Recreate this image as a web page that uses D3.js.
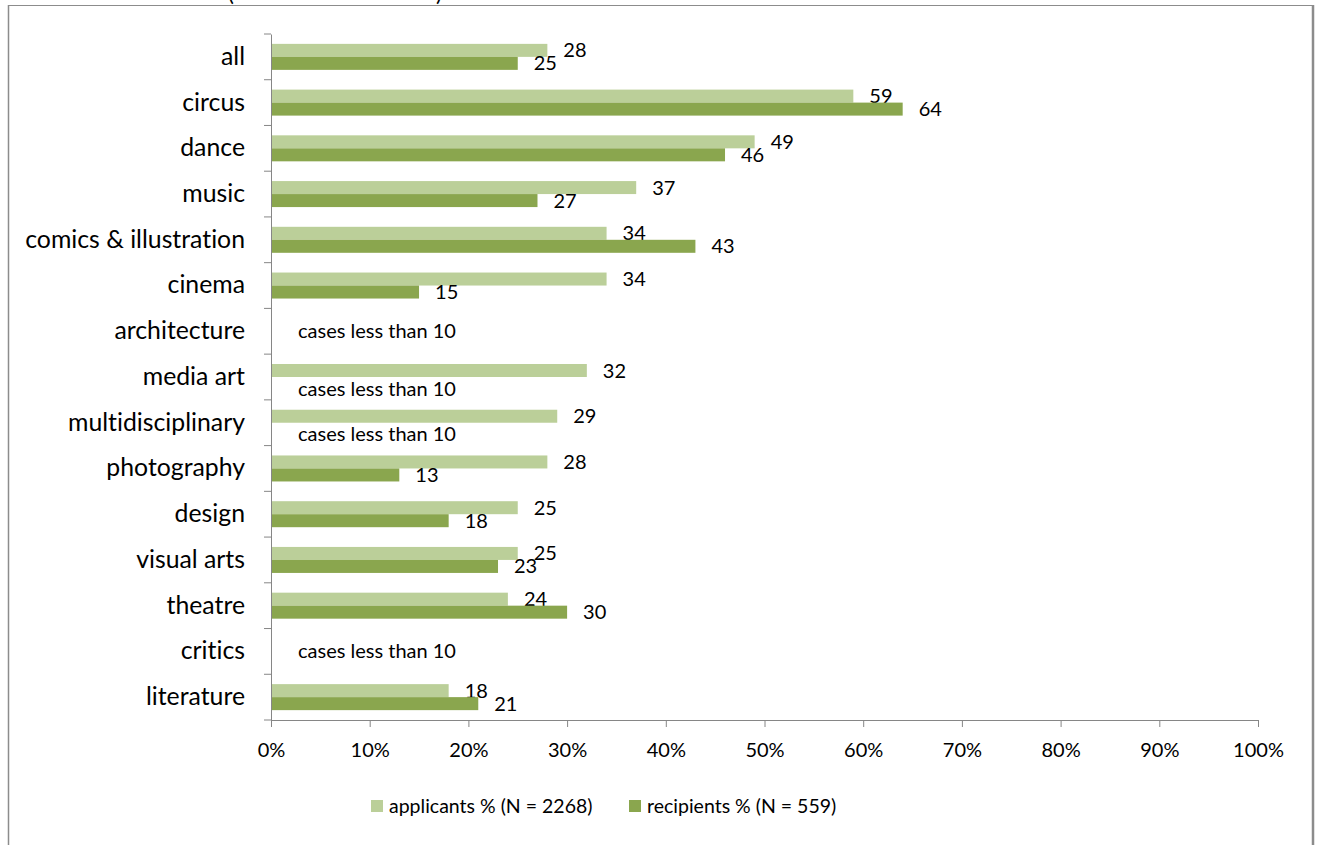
<!DOCTYPE html>
<html>
<head>
<meta charset="utf-8">
<script src="https://cdn.jsdelivr.net/npm/d3@7/dist/d3.min.js"></script>
<style>
  html, body { margin: 0; padding: 0; background: #fff; }
  svg { display: block; font-family: Lato, "Open Sans", sans-serif; font-variant-ligatures: none; }
</style>
</head>
<body>
<svg id="chart" width="1317" height="845"></svg>
<script>
const categories = ["all", "circus", "dance", "music", "comics & illustration", "cinema",
  "architecture", "media art", "multidisciplinary", "photography", "design",
  "visual arts", "theatre", "critics", "literature"];
const applicants = [28, 59, 49, 37, 34, 34, null, 32, 29, 28, 25, 25, 24, null, 18];
const recipients = [25, 64, 46, 27, 43, 15, null, null, null, 13, 18, 23, 30, null, 21];
const seriesNames = ["applicants % (N = 2268)", "recipients % (N = 559)"];
const xTicks = [0, 10, 20, 30, 40, 50, 60, 70, 80, 90, 100];
const noteText = "cases less than 10";

const colors = ["#bbcf99", "#8aa64e"];
const svg = d3.select("#chart");

// outer frame
svg.append("line").attr("x1", 8).attr("x2", 1313).attr("y1", 5.5).attr("y2", 5.5)
  .attr("stroke", "#8c8c8c").attr("stroke-width", 1);
svg.append("line").attr("x1", 8.5).attr("x2", 8.5).attr("y1", 5).attr("y2", 845)
  .attr("stroke", "#8c8c8c").attr("stroke-width", 1.5);
svg.append("line").attr("x1", 1313).attr("x2", 1313).attr("y1", 5).attr("y2", 845)
  .attr("stroke", "#8c8c8c").attr("stroke-width", 2.5);

// clipped title remnants (title sits above the visible area)
svg.append("text").attr("x", 228).attr("y", 1).attr("font-size", 22).attr("fill", "#000").text("(");
svg.append("text").attr("x", 436).attr("y", 1).attr("font-size", 22).attr("fill", "#000").text(")");

const x = d3.scaleLinear().domain([0, 100]).range([271, 1258]);
const y = d3.scaleBand().domain(categories).range([34, 720]);
const barH = 13;
const pad = (y.bandwidth() - 2 * barH) / 2;

const rows = categories.map((c, i) => ({ c, a: applicants[i], r: recipients[i] }));

// bars and labels
const g = svg.append("g");
rows.forEach(d => {
  [d.a, d.r].forEach((v, k) => {
    if (v == null) return;
    const by = y(d.c) + pad + k * barH;
    g.append("rect").attr("x", x(0)).attr("y", by)
      .attr("width", x(v) - x(0)).attr("height", barH).attr("fill", colors[k]);
    g.append("text").attr("x", x(v) + 16).attr("y", by + barH / 2)
      .attr("dy", "0.35em").attr("font-size", 20).attr("fill", "#000").text(v);
  });
  if (d.r == null) {
    const ny = d.a == null ? y(d.c) + y.bandwidth() / 2 : y(d.c) + pad + barH * 1.5 + 5;
    g.append("text").attr("x", x(0) + 27).attr("y", ny).attr("dy", "0.35em")
      .attr("font-size", 20).attr("fill", "#000").text(noteText);
  }
});

// y axis
const yAxis = svg.append("g").attr("transform", `translate(${x(0)},0)`)
  .call(d3.axisLeft(y).tickSize(0).tickPadding(26));
yAxis.select(".domain").attr("stroke", "#868686");
yAxis.selectAll("text").attr("font-size", 24.8).attr("fill", "#000")
  .attr("font-family", "Lato, sans-serif").style("font-variant-ligatures", "none");
const bounds = categories.map(c => y(c)).concat([y.range()[1]]);
svg.append("g").selectAll("line").data(bounds).join("line")
  .attr("x1", x(0) - 7).attr("x2", x(0)).attr("y1", d => d).attr("y2", d => d)
  .attr("stroke", "#868686");

// x axis
const xAxis = svg.append("g").attr("transform", `translate(0,${y.range()[1]})`)
  .call(d3.axisBottom(x).tickValues(xTicks).tickFormat(d => d + "%").tickSize(7).tickPadding(16));
xAxis.select(".domain").attr("stroke", "#868686").attr("d", `M${x(0)},0.5H${x(100)}`);
xAxis.selectAll(".tick line").attr("stroke", "#868686");
xAxis.selectAll("text").attr("font-size", 20).attr("fill", "#000").attr("font-family", "Lato, sans-serif");

// legend
const leg = svg.append("g");
const legX = [371, 629];
seriesNames.forEach((n, k) => {
  leg.append("rect").attr("x", legX[k]).attr("y", 800).attr("width", 12).attr("height", 12).attr("fill", colors[k]);
  leg.append("text").attr("x", legX[k] + 18).attr("y", 806).attr("dy", "0.35em")
    .attr("font-size", 19.5).attr("fill", "#000").text(n);
});
</script>
</body>
</html>
